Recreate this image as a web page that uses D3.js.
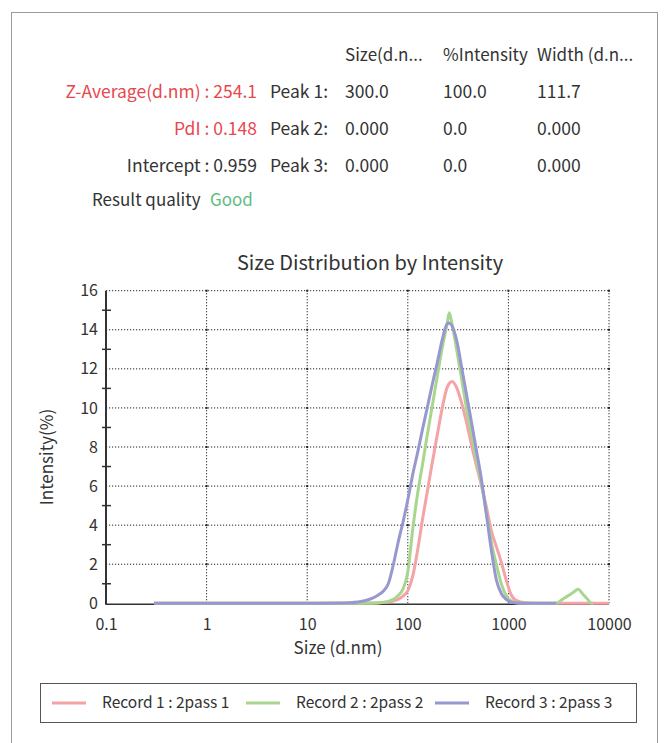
<!DOCTYPE html>
<html>
<head>
<meta charset="utf-8">
<script src="https://cdn.jsdelivr.net/npm/d3@7"></script>
<style>
  html, body { margin: 0; padding: 0; background: #fff; }
  svg { display: block; font-family: "Noto Sans CJK KR", "Noto Sans", sans-serif; }
</style>
</head>
<body>
<svg id="chart" width="665" height="743"></svg>
<script>
// Size bins (d.nm) shared by all three records
const sizes = [0.3, 0.5, 1, 2, 5, 10, 20, 26, 32, 38, 44, 50, 57, 64, 72, 80, 90, 100, 112, 125,
  140, 156, 175, 196, 220, 246, 258, 275, 308, 345, 386, 432, 484, 541, 606, 678, 759, 850, 950,
  1063, 1190, 1500, 2000, 2600, 3000, 3400, 3900, 4400, 4930, 5500, 6100, 6700, 7000, 8500, 10000];

// Intensity (%) per bin; null = no data in that bin
const record1 = [0, 0, 0, 0, 0, 0, 0, 0, 0, 0.01, 0.01, 0.02, 0.04, 0.07, 0.12, 0.2, 0.38, 0.65, 1.4, 2.7,
  4.3, 5.7, 7.2, 8.6, 10.0, 11.05, 11.25, 11.35, 11.0, 10.2, 9.2, 8.05, 7.0, 6.0, 4.9, 3.7, 2.9, 2.1, 1.2,
  0.45, 0.15, 0.03, 0, 0, 0, 0, 0, 0, 0, 0, 0, 0, 0, 0, 0];
const record2 = [0, 0, 0, 0, 0, 0, 0, 0, 0, 0, 0, 0.02, 0.05, 0.1, 0.2, 0.4, 0.75, 1.6, 3.8, 5.6,
  7.1, 8.6, 10.1, 11.6, 13.1, 14.3, 14.87, 14.3, 12.9, 11.4, 9.9, 8.6, 7.3, 6.1, 4.6, 3.1, 2.0, 1.0, 0.4,
  0.12, 0.03, 0, 0, 0, 0, 0.18, 0.38, 0.55, 0.72, 0.46, 0.22, 0, 0, null, null];
const record3 = [0, 0, 0, 0, 0, 0, 0.01, 0.03, 0.07, 0.14, 0.25, 0.4, 0.62, 1.0, 2.0, 3.1, 4.2, 5.3, 6.6, 7.7,
  8.9, 10.0, 11.2, 12.3, 13.5, 14.3, 14.35, 14.2, 13.4, 12.0, 10.6, 9.2, 7.75, 6.3, 4.5, 2.7, 1.2, 0.5, 0.2,
  0.07, 0.02, 0, 0, 0, 0, null, null, null, null, null, null, null, null, null, null];

const seriesNames = ["Record 1 : 2pass 1", "Record 2 : 2pass 2", "Record 3 : 2pass 3"];
const seriesColors = ["#f4a3a6", "#a9d68f", "#9898d0"];

const xTicks = [0.1, 1, 10, 100, 1000, 10000];
const xTickLabels = ["0.1", "1", "10", "100", "1000", "10000"];
const yTicks = [0, 2, 4, 6, 8, 10, 12, 14, 16];
const yMinorTicks = [1, 3, 5, 7, 9, 11, 13, 15];

// Result summary table
const tableHeaders = ["Size(d.n...", "%Intensity", "Width (d.n..."];
const summaryLabels = ["Z-Average(d.nm) : 254.1", "PdI : 0.148", "Intercept : 0.959"];
const peakLabels = ["Peak 1:", "Peak 2:", "Peak 3:"];
const peakSize = ["300.0", "0.000", "0.000"];
const peakIntensity = ["100.0", "0.0", "0.0"];
const peakWidth = ["111.7", "0.000", "0.000"];

const svg = d3.select("#chart");
const fontStack = "\"Noto Sans CJK KR\", \"Noto Sans\", sans-serif";
const textColor = "#333";
const red = "#e8474d";

// outer frame
svg.append("rect").attr("x", 11.5).attr("y", 12.5).attr("width", 646).attr("height", 760)
  .attr("fill", "none").attr("stroke", "#9a9a9a").attr("stroke-width", 1);

// ---- summary table ----
const rowY = [92, 129, 166];
const colX = [345, 443, 537];
const table = svg.append("g").attr("font-size", 17.5).attr("fill", textColor);
tableHeaders.forEach((h, i) => {
  table.append("text").attr("x", colX[i]).attr("y", 55).attr("dy", "0.35em")
    .attr("font-size", 17).text(h);
});
summaryLabels.forEach((s, i) => {
  table.append("text").attr("x", 257).attr("y", rowY[i]).attr("dy", "0.35em")
    .attr("text-anchor", "end").attr("fill", i < 2 ? red : textColor).text(s);
  table.append("text").attr("x", 270).attr("y", rowY[i]).attr("dy", "0.35em").text(peakLabels[i]);
  [peakSize[i], peakIntensity[i], peakWidth[i]].forEach((v, j) => {
    table.append("text").attr("x", colX[j]).attr("y", rowY[i]).attr("dy", "0.35em").text(v);
  });
});
table.append("text").attr("x", 92).attr("y", 200).attr("dy", "0.35em").attr("font-size", 17).text("Result quality");
table.append("text").attr("x", 210).attr("y", 200).attr("dy", "0.35em").attr("font-size", 17)
  .attr("fill", "#5cbd7f").text("Good");

// ---- chart ----
const x = d3.scaleLog().domain([0.1, 10000]).range([106, 609]);
const y = d3.scaleLinear().domain([0, 16]).range([603.3, 290.7]);

svg.append("text").attr("x", 370).attr("y", 263).attr("dy", "0.35em").attr("text-anchor", "middle")
  .attr("font-size", 20).attr("fill", textColor).text("Size Distribution by Intensity");

// dotted grid
const grid = svg.append("g").attr("stroke", "#222").attr("stroke-width", 1).attr("stroke-dasharray", "1.2,1.8");
yTicks.filter(d => d > 0).forEach(d => {
  grid.append("line").attr("x1", x(0.1)).attr("x2", x(10000)).attr("y1", y(d)).attr("y2", y(d));
});
xTicks.filter(d => d > 0.1).forEach(d => {
  grid.append("line").attr("x1", x(d)).attr("x2", x(d)).attr("y1", y(0)).attr("y2", y(16));
});
// small marks at grid crossings
const marks = svg.append("g").attr("fill", "#222");
xTicks.filter(d => d > 0.1).forEach(xv => {
  yTicks.filter(d => d > 0).forEach(yv => {
    marks.append("rect").attr("x", x(xv) - 1).attr("y", y(yv) - 1).attr("width", 2).attr("height", 2);
  });
});

// y axis
const yAxis = d3.axisLeft(y).tickValues(yTicks).tickSize(0).tickPadding(8).tickFormat(d3.format("d"));
const yg = svg.append("g").attr("transform", `translate(${x(0.1)},0)`).call(yAxis);
yg.select(".domain").remove();
yg.selectAll("text").attr("font-size", 16).attr("fill", textColor).attr("font-family", fontStack);
svg.append("line").attr("x1", x(0.1)).attr("x2", x(0.1)).attr("y1", y(16)).attr("y2", y(0) + 1.5)
  .attr("stroke", "#333").attr("stroke-width", 2);
yMinorTicks.forEach(d => {
  svg.append("line").attr("x1", x(0.1) - 4).attr("x2", x(0.1) + 5).attr("y1", y(d)).attr("y2", y(d))
    .attr("stroke", "#333").attr("stroke-width", 1.5);
});

// x axis
const xAxis = d3.axisBottom(x).tickValues(xTicks).tickSize(0).tickPadding(15)
  .tickFormat((d, i) => xTickLabels[i]);
const xg = svg.append("g").attr("transform", `translate(0,${y(0)})`).call(xAxis);
xg.select(".domain").remove();
xg.selectAll("text").attr("font-size", 16).attr("fill", textColor).attr("font-family", fontStack);
svg.append("line").attr("x1", x(0.1)).attr("x2", x(10000)).attr("y1", y(0) + 1).attr("y2", y(0) + 1)
  .attr("stroke", "#333").attr("stroke-width", 1.5);

// axis titles
svg.append("text").attr("x", 338).attr("y", 648).attr("dy", "0.35em").attr("text-anchor", "middle")
  .attr("font-size", 17).attr("fill", textColor).text("Size (d.nm)");
svg.append("text").attr("transform", "translate(47,457) rotate(-90)").attr("dy", "0.35em")
  .attr("text-anchor", "middle").attr("font-size", 17).attr("fill", textColor).text("Intensity(%)");

// distribution curves
const line = d3.line()
  .defined(d => d.v !== null)
  .x(d => x(d.s))
  .y(d => y(d.v))
  .curve(d3.curveMonotoneX);
[record1, record2, record3].forEach((vals, i) => {
  const pts = sizes.map((s, k) => ({ s, v: vals[k] }));
  svg.append("path").datum(pts).attr("d", line).attr("fill", "none")
    .attr("stroke", seriesColors[i]).attr("stroke-width", 3).attr("stroke-linejoin", "round");
});

// legend
svg.append("rect").attr("x", 40.5).attr("y", 683.5).attr("width", 596).attr("height", 39)
  .attr("fill", "#fff").attr("stroke", "#555").attr("stroke-width", 1);
const legendX = [52, 246, 435];
seriesNames.forEach((n, i) => {
  svg.append("line").attr("x1", legendX[i]).attr("x2", legendX[i] + 34).attr("y1", 703).attr("y2", 703)
    .attr("stroke", seriesColors[i]).attr("stroke-width", 3);
  svg.append("text").attr("x", legendX[i] + 50).attr("y", 703).attr("dy", "0.35em")
    .attr("font-size", 15.5).attr("fill", textColor).text(n);
});
</script>
</body>
</html>
